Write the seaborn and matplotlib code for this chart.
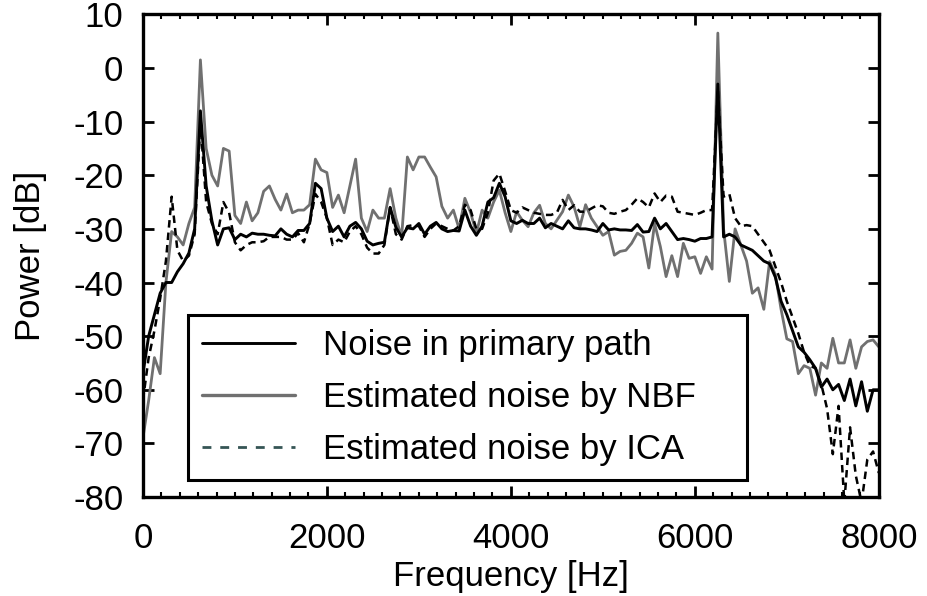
import numpy as np
import pandas as pd
import matplotlib
matplotlib.use("Agg")
import matplotlib.pyplot as plt
from matplotlib.lines import Line2D
from matplotlib.ticker import MultipleLocator
import seaborn as sns

# frequency bins, 62.5 Hz apart (0 .. 8000 Hz)
freq_hz = np.arange(129) * 62.5

# Noise in primary path [dB]
primary_db = [
    -57, -50, -46, -42, -40, -40, -38, -36.5, -34.5, -30, -8, -22, -28.5, -33, -30, -29.8,
    -32, -31, -31.5, -30.8, -31, -31, -31.2, -31.3, -30, -31, -31.5, -30.3, -30.3, -29, -21.5, -22.5,
    -28, -30.5, -29.5, -31.5, -29.5, -28.8, -30, -32.3, -33, -32.7, -32.5, -26, -29.7, -31.5, -29.8, -30,
    -29, -31, -29.5, -28.8, -30, -30.5, -30.3, -30.4, -26.5, -29.5, -31.2, -29.5, -25, -24.2, -21.5, -24,
    -28.5, -29, -28.4, -29, -29, -28, -29.8, -29, -29.5, -30, -28.5, -29.8, -30, -30, -30.2, -30.5,
    -29, -30.2, -30, -30.2, -30.2, -30.3, -29.2, -30.6, -30.5, -28, -30, -29, -30.5, -32, -31.8, -32,
    -32.3, -31.8, -31.8, -31.5, -3, -31.5, -31, -31.5, -33, -33.5, -34, -35, -36, -36.5, -39, -43.5,
    -46, -49, -52, -53, -54.4, -56, -59.5, -58, -60, -59, -62, -58, -63, -58.5, -64, -60,
    -60,
]

# Estimated noise by NBF [dB]
nbf_db = [
    -69, -62, -54, -57, -40, -30.5, -31.5, -33, -29, -26, 1.5, -15, -20, -22, -15, -15.5,
    -27.5, -29, -25, -28.5, -27, -23, -22, -24.5, -26.5, -23.5, -27, -26.5, -26.5, -25.5, -17, -19,
    -19.5, -26, -23.7, -27, -22, -17, -28, -30.5, -26.5, -28, -28, -22.5, -28, -31.5, -16.6, -19,
    -16.6, -16.6, -18.5, -20.3, -25.8, -28, -26.5, -30, -24.3, -27, -30.8, -26.5, -28, -25, -22.8, -27,
    -30.5, -26.8, -28.4, -29.6, -27, -25.6, -29, -30, -28.4, -26.8, -23.7, -25.9, -29.6, -25.5, -28, -29.6,
    -31.2, -30.5, -34.9, -34.2, -34, -32.7, -30.8, -31.5, -37.3, -29, -33.3, -38.9, -35, -38.9, -32.7, -35.5,
    -35.2, -38.3, -35.2, -37.5, 6.5, -30, -39.8, -30, -33, -36, -42, -41, -45, -36.1, -38.5, -45,
    -50.5, -51, -57, -55.5, -56, -61, -55, -56, -50.4, -55, -55, -50.7, -56, -52, -51, -50.7,
    -52,
]

# Estimated noise by ICA [dB]
ica_db = [
    -62, -54, -49, -43, -36, -24, -34, -36, -35, -31, -10, -25, -29, -31, -25, -27,
    -32.5, -34, -33, -32.5, -32.5, -32.3, -31.5, -31.5, -31.5, -32, -32, -30.8, -32.5, -29, -23.5, -25,
    -28, -33, -32, -32.5, -30.5, -29.5, -31, -33.5, -34.6, -34.6, -33, -26, -31, -32, -29.5, -29.3,
    -29.5, -31.5, -30, -29, -29.5, -30, -30.3, -29.5, -25.5, -26.5, -30, -30, -27, -21, -19.7, -23,
    -26.5, -27, -26, -26.5, -27, -27.2, -27.4, -27.4, -27, -24.6, -26.5, -25.6, -26.8, -26.8, -26.2, -25.6,
    -25.8, -27, -27.2, -26.8, -26.5, -25.5, -24.3, -25, -26, -23.4, -25, -23.8, -24, -26.8, -27, -27.2,
    -27.4, -27, -26.5, -26.5, -4, -24, -23.5, -28, -29.5, -29.3, -29.5, -31, -32.5, -34, -37, -40,
    -43.5, -46.5, -49.5, -53, -55.5, -56, -59, -63.5, -72, -63, -81, -67, -76, -81, -73, -71.5,
    -75.5,
]

labels = ["Noise in primary path", "Estimated noise by NBF", "Estimated noise by ICA"]

df = pd.DataFrame({"freq": freq_hz, "primary": primary_db, "nbf": nbf_db, "ica": ica_db})

sns.set_theme(style="ticks")
plt.rcParams["font.family"] = ["Liberation Sans", "DejaVu Sans"]
plt.rcParams["axes.unicode_minus"] = False
plt.rcParams["text.color"] = "black"
plt.rcParams["axes.labelcolor"] = "black"

fs = 25

fig = plt.figure(figsize=(9.28, 5.96), dpi=100)
ax = fig.add_axes([0.154, 0.166, 0.793, 0.810])

sns.lineplot(data=df, x="freq", y="nbf", ax=ax, color="#707070", lw=2.0, legend=False)
sns.lineplot(data=df, x="freq", y="ica", ax=ax, color="black", lw=1.8, linestyle=(0, (3, 2)), legend=False)
sns.lineplot(data=df, x="freq", y="primary", ax=ax, color="black", lw=2.1, legend=False)

ax.set_xlim(0, 8000)
ax.set_ylim(-80, 10)
ax.xaxis.set_major_locator(MultipleLocator(2000))
ax.xaxis.set_minor_locator(MultipleLocator(200))
ax.yaxis.set_major_locator(MultipleLocator(10))

ax.tick_params(which="both", direction="in", top=True, right=True, colors="black")
ax.tick_params(which="major", length=8, width=2, labelsize=fs)
ax.tick_params(axis="x", which="major", pad=18)
ax.tick_params(axis="y", which="major", pad=14)
ax.tick_params(axis="x", which="minor", length=3.6, width=1.5)
ax.tick_params(axis="y", which="minor", length=0)
for sp in ax.spines.values():
    sp.set_linewidth(2.4)
    sp.set_color("black")

ax.set_xlabel("Frequency [Hz]", fontsize=fs)
ax.set_ylabel("Power [dB]", fontsize=fs)
ax.xaxis.set_label_coords(0.5, -0.13)
ax.yaxis.set_label_coords(-0.13, 0.5)

handles = [
    Line2D([], [], color="black", lw=2.1),
    Line2D([], [], color="#707070", lw=2.4),
    Line2D([], [], color="#355555", lw=2.0, dashes=(3.2, 3.2)),
]
leg = ax.legend(handles, labels, loc="lower left", bbox_to_anchor=(0.061, 0.035, 0.76, 0.327),
                mode="expand", borderaxespad=0, fontsize=fs, handlelength=2.7, handletextpad=0.8,
                labelspacing=0.55, borderpad=0.4, fancybox=False, framealpha=1, edgecolor="black")
leg.get_frame().set_linewidth(2.2)

fig.savefig("out.png", dpi=100)
